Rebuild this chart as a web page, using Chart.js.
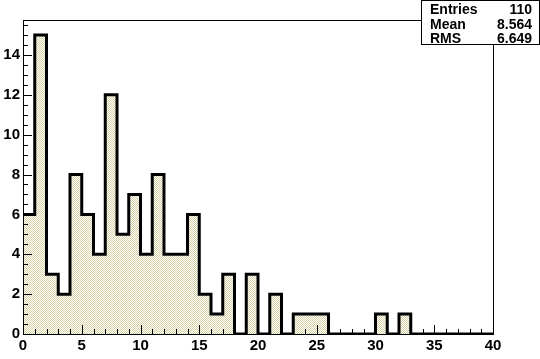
<!DOCTYPE html>
<html>
<head>
<meta charset="utf-8">
<script src="https://cdn.jsdelivr.net/npm/chart.js@4"></script>
<style>
  html, body { margin: 0; padding: 0; background: #fff; }
  #wrap { width: 540px; height: 359px; }
</style>
</head>
<body>
<div id="wrap"><canvas id="histo" width="540" height="359"></canvas></div>
<script>
// bin low edges (width 1) and counts
const binEdges = [0,1,2,3,4,5,6,7,8,9,10,11,12,13,14,15,16,17,18,19,20,21,22,23,24,25,26,27,28,29,30,31,32,33,34,35,36,37,38,39,40];
const counts = [6,15,3,2,8,6,4,12,5,7,4,8,4,4,6,2,1,3,0,3,0,2,0,1,1,1,0,0,0,0,1,0,1,0,0,0,0,0,0,0];
const yTicks = [0,2,4,6,8,10,12,14];
const statNames = ['Entries', 'Mean', 'RMS'];
const statValues = ['110', '8.564', '6.649'];

// checkered fill like ROOT's hatch
function makePattern() {
  const c = document.createElement('canvas');
  c.width = 2; c.height = 2;
  const g = c.getContext('2d');
  g.fillStyle = '#ffffff';
  g.fillRect(0, 0, 2, 2);
  g.fillStyle = '#d9d2a6';
  g.fillRect(0, 0, 1, 1);
  g.fillRect(1, 1, 1, 1);
  return g.createPattern(c, 'repeat');
}

// point at each low edge carries that bin's count (last edge closes at 0)
const pts = binEdges.map((x, i) => ({ x: x, y: i < counts.length ? counts[i] : 0 }));

const frame = {
  id: 'frame',
  afterDraw(chart) {
    const ctx = chart.ctx;
    const a = chart.chartArea;
    const xs = chart.scales.x, ys = chart.scales.y;
    ctx.save();
    ctx.strokeStyle = '#000';
    ctx.lineWidth = 1;
    ctx.strokeRect(Math.round(a.left) + 0.5, Math.round(a.top) + 0.5,
                   Math.round(a.right - a.left), Math.round(a.bottom - a.top));
    ctx.beginPath();
    // x ticks: major every 5, minor every 1
    for (let v = 0; v <= 40; v++) {
      const px = Math.round(xs.getPixelForValue(v)) + 0.5;
      const len = v % 5 === 0 ? 9 : 5;
      ctx.moveTo(px, a.bottom);
      ctx.lineTo(px, a.bottom - len);
    }
    // y ticks: major every 2, minor every 0.5
    for (let v = 0; v <= 15.5; v += 0.5) {
      const py = Math.round(ys.getPixelForValue(v)) + 0.5;
      const len = v % 2 === 0 ? 9 : 5;
      ctx.moveTo(a.left, py);
      ctx.lineTo(a.left + len, py);
    }
    ctx.stroke();

    // stats box
    ctx.fillStyle = '#fff';
    ctx.fillRect(421, 0, 119, 45);
    ctx.strokeRect(421.5, 0.5, 118, 44);
    ctx.fillStyle = '#000';
    ctx.font = 'bold 14px "Liberation Sans", Arial, sans-serif';
    ctx.textBaseline = 'alphabetic';
    statNames.forEach((n, i) => {
      const by = 14 + i * 14.5;
      ctx.textAlign = 'left';
      ctx.fillText(n, 430, by);
      ctx.textAlign = 'right';
      ctx.fillText(statValues[i], 532, by);
    });
    ctx.restore();
  }
};

new Chart(document.getElementById('histo'), {
  type: 'line',
  data: {
    datasets: [{
      data: pts,
      stepped: 'before',
      borderColor: '#000',
      borderWidth: 3,
      backgroundColor: makePattern(),
      fill: 'origin',
      pointRadius: 0
    }]
  },
  options: {
    responsive: false,
    animation: false,
    layout: { padding: { top: 20, right: 47, left: 0, bottom: 0 } },
    plugins: { legend: { display: false }, tooltip: { enabled: false } },
    scales: {
      x: {
        type: 'linear',
        min: 0, max: 40,
        grid: { display: false, drawTicks: false },
        border: { display: false },
        ticks: {
          stepSize: 5,
          padding: 3,
          color: '#000',
          maxRotation: 0,
          font: { family: '"Liberation Sans", Arial, sans-serif', size: 15, weight: 'bold' }
        },
        afterFit(s) { s.height = 25; }
      },
      y: {
        min: 0, max: 15.75,
        grid: { display: false, drawTicks: false },
        border: { display: false },
        afterBuildTicks(s) { s.ticks = yTicks.map(v => ({ value: v })); },
        ticks: {
          padding: 3,
          color: '#000',
          font: { family: '"Liberation Sans", Arial, sans-serif', size: 15, weight: 'bold' }
        },
        afterFit(s) { s.width = 23; }
      }
    }
  },
  plugins: [frame]
});
</script>
</body>
</html>
